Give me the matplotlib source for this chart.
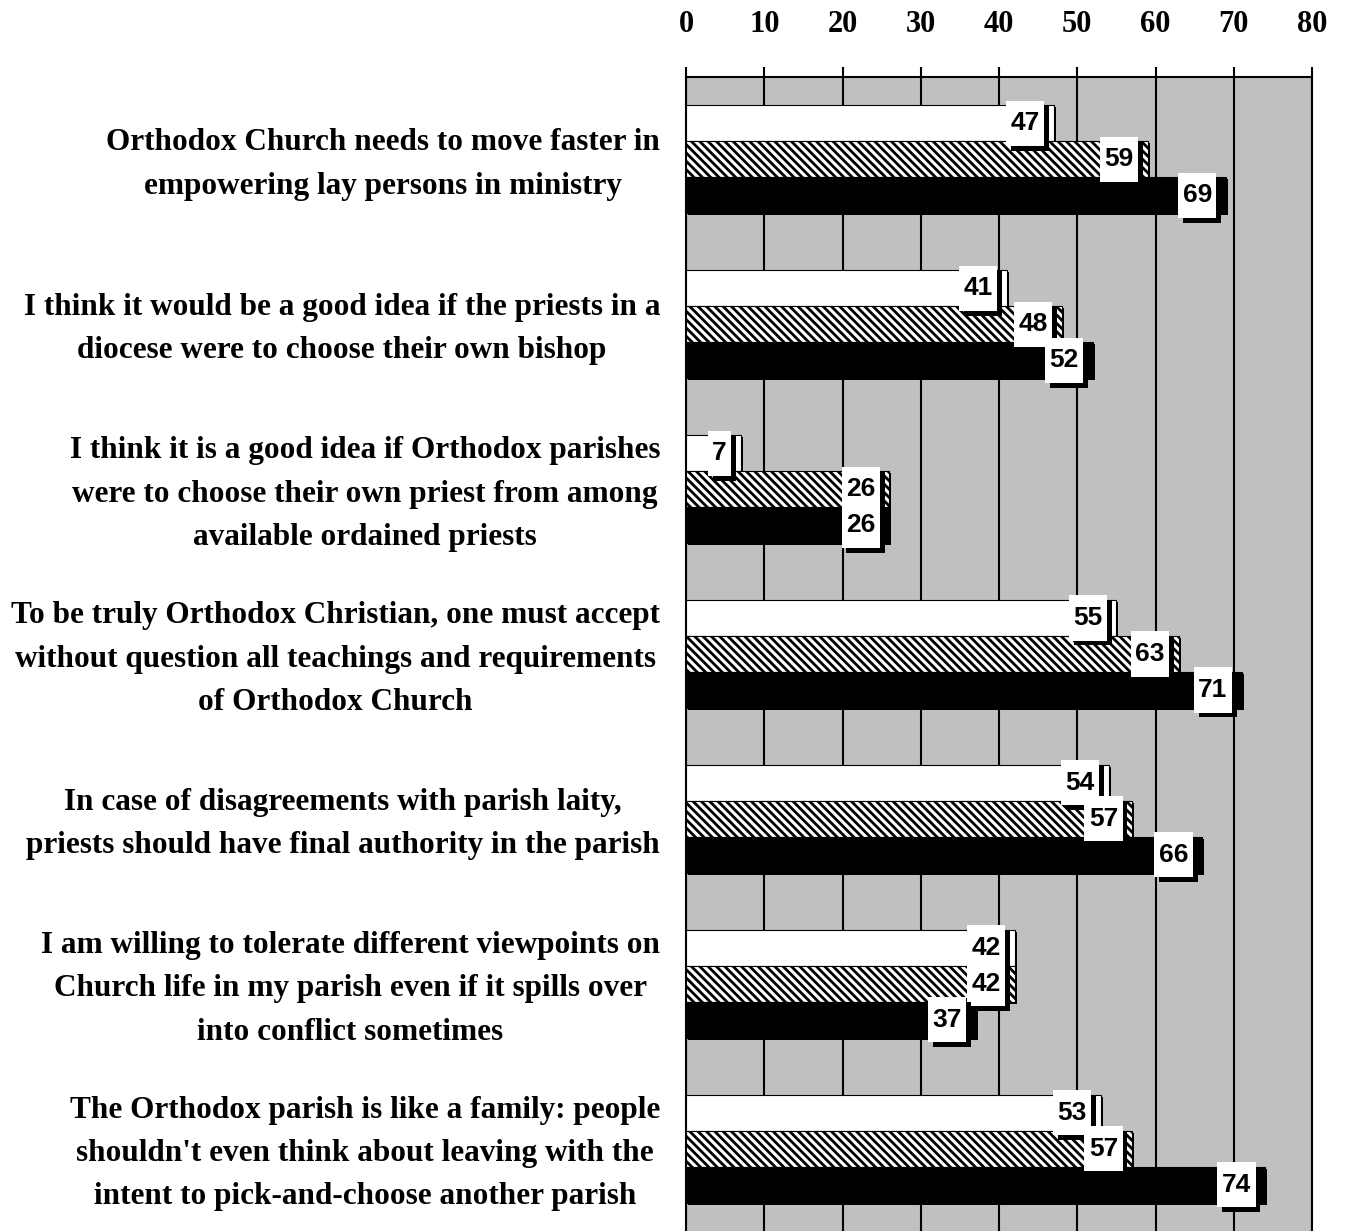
import numpy as np
import matplotlib
matplotlib.use('Agg')
import matplotlib.pyplot as plt
import matplotlib.patheffects as pe
from matplotlib.path import Path
from matplotlib.transforms import ScaledTranslation, blended_transform_factory

statements = [
    "Orthodox Church needs to move faster in\nempowering lay persons in ministry",
    "I think it would be a good idea if the priests in a\ndiocese were to choose their own bishop",
    "I think it is a good idea if Orthodox parishes\nwere to choose their own priest from among\navailable ordained priests",
    "To be truly Orthodox Christian, one must accept\nwithout question all teachings and requirements\nof Orthodox Church",
    "In case of disagreements with parish laity,\npriests should have final authority in the parish",
    "I am willing to tolerate different viewpoints on\nChurch life in my parish even if it spills over\ninto conflict sometimes",
    "The Orthodox parish is like a family: people\nshouldn't even think about leaving with the\nintent to pick-and-choose another parish",
]
group_a = [47, 41, 7, 55, 54, 42, 53]
group_b = [59, 48, 26, 63, 57, 42, 57]
group_c = [69, 52, 26, 71, 66, 37, 74]
x_ticks = [0, 10, 20, 30, 40, 50, 60, 70, 80]

plt.rcParams['hatch.linewidth'] = 2.0

fig = plt.figure(figsize=(13.46, 12.31), dpi=100)
ax = fig.add_axes([686 / 1346, 0, 626 / 1346, 1 - 77 / 1231])
ax.set_facecolor('#c0c0c0')

y = np.arange(len(statements))
h = 0.2186


def label_box(x0, y0, width, height, mutation_size):
    px = 0.17 * mutation_size
    py = 0.4 * mutation_size
    x1 = x0 + width + px
    y1 = y0 + height + py
    x0 = x0 - px
    y0 = y0 - py
    return Path([(x0, y0), (x1, y0), (x1, y1), (x0, y1), (x0, y0)], closed=True)


styles = [(group_a, 'white', None), (group_b, 'white', '\\\\\\\\'), (group_c, 'black', None)]
shadow = ax.transData + ScaledTranslation(2 / 100, -2 / 100, fig.dpi_scale_trans)
for i, (vals, face, hatch) in enumerate(styles):
    pos = y + (i - 1) * h
    sb = ax.barh(pos, vals, height=h, color='black', zorder=2)
    for p in sb:
        p.set_transform(shadow)
    ax.barh(pos, vals, height=h, color=face, edgecolor='black', linewidth=0.8,
            hatch=hatch, zorder=3)
    for yy, v in zip(pos, vals):
        t = ax.annotate(str(v), (v, yy), xytext=(-(10 + 4) * 0.72, 0),
                        textcoords='offset points', ha='right', va='center',
                        fontsize=19, fontweight='bold', family='Liberation Sans',
                        zorder=6,
                        bbox=dict(boxstyle=label_box, facecolor='white', edgecolor='none'))
        t.get_bbox_patch().set_path_effects(
            [pe.withSimplePatchShadow(offset=(3.5, -3.5), shadow_rgbFace='black', alpha=1.0)])

ax.set_xlim(0, 80)
ax.set_ylim(len(statements) - 0.5, -0.5)
ax.grid(axis='x', color='black', linewidth=1.5)
ax.set_axisbelow(True)

ax.xaxis.tick_top()
ax.set_xticks(x_ticks)
ax.tick_params(axis='x', length=7.2, width=1.5, pad=20, labelsize=22)
for lbl in ax.get_xticklabels():
    lbl.set_fontweight('bold')
    lbl.set_family('Liberation Serif')

# category labels to the left of the axes
ax.set_yticks([])
label_tr = blended_transform_factory(ax.transAxes, ax.transData) + \
    ScaledTranslation(-26 / 100, -5 / 100, fig.dpi_scale_trans)
for yy, s in zip(y, statements):
    ax.text(0, yy, s, transform=label_tr, ha='right', va='center',
            multialignment='center', linespacing=1.65, fontsize=22.5,
            fontweight='bold', family='Liberation Serif')

ax.spines['bottom'].set_visible(False)
for s in ['top', 'left', 'right']:
    ax.spines[s].set_linewidth(1.5)

fig.savefig('out.png', dpi=100)
